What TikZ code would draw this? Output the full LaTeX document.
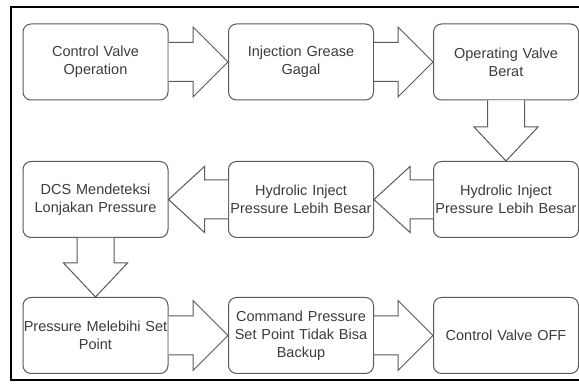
\documentclass[tikz,border=0pt]{standalone}
\usepackage{fontspec}
\setmainfont{Liberation Sans}
\usetikzlibrary{calc}
\definecolor{boxline}{HTML}{5A5A5A}
\definecolor{txt}{HTML}{3C3C3C}

% hollow block arrows between two named anchors
\newcommand{\flowright}[2]{%
  \draw[blockarrow] ($(#1)+(0,19.5)$) -- ($(#2)+(-35,19.5)$) -- ($(#2)+(-35,35)$) -- (#2)
    -- ($(#2)+(-35,-35)$) -- ($(#2)+(-35,-19.5)$) -- ($(#1)+(0,-19.5)$);}
\newcommand{\flowleft}[2]{%
  \draw[blockarrow] ($(#1)+(0,19.5)$) -- ($(#2)+(36,19.5)$) -- ($(#2)+(36,33)$) -- (#2)
    -- ($(#2)+(36,-33)$) -- ($(#2)+(36,-19.5)$) -- ($(#1)+(0,-19.5)$);}
\newcommand{\flowdown}[2]{%
  \draw[blockarrow] ($(#1)+(-18.5,0)$) -- ($(#2)+(-18.5,34)$) -- ($(#2)+(-32,34)$) -- (#2)
    -- ($(#2)+(32,34)$) -- ($(#2)+(18.5,34)$) -- ($(#1)+(18.5,0)$);}

\begin{document}
\begin{tikzpicture}[x=1pt,y=1pt,
  stepbox/.style={draw=boxline, line width=1pt, rounded corners=8pt, fill=white,
    minimum width=145pt, minimum height=76pt, text width=145pt, align=center,
    inner sep=0pt, text=txt, font=\fontsize{14.5}{18}\selectfont},
  blockarrow/.style={draw=boxline, line width=1pt, fill=white, line join=miter}]
\useasboundingbox (0,0) rectangle (579,388);
\fill[white] (0,0) rectangle (579,388);
\draw[line width=2pt] (11,8) rectangle (600,381);

% row 1
\node[stepbox] (n1) at (95.5,326) {Control Valve\\Operation};
\node[stepbox] (n2) at (301,326) {Injection Grease\\Gagal};
\node[stepbox] (n3) at (506,326) {Operating Valve\\Berat};
% row 2
\node[stepbox] (n4) at (506,188.5) {Hydrolic Inject\\Pressure Lebih Besar};
\node[stepbox] (n5) at (301,188.5) {Hydrolic Inject\\Pressure Lebih Besar};
\node[stepbox] (n6) at (95.5,188.5) {DCS Mendeteksi\\Lonjakan Pressure};
% row 3
\node[stepbox] (n7) at (95.5,52.5) {Pressure Melebihi Set\\Point};
\node[stepbox] (n8) at (301,52.5) {Command Pressure\\Set Point Tidak Bisa\\Backup};
\node[stepbox] (n9) at (506,52.5) {Control Valve OFF};

% flow
\flowright{n1.east}{n2.west}
\flowright{n2.east}{n3.west}
\flowdown{n3.south}{n4.north}
\flowleft{n4.west}{n5.east}
\flowleft{n5.west}{n6.east}
\flowdown{n6.south}{n7.north}
\flowright{n7.east}{n8.west}
\flowright{n8.east}{n9.west}
\end{tikzpicture}
\end{document}
